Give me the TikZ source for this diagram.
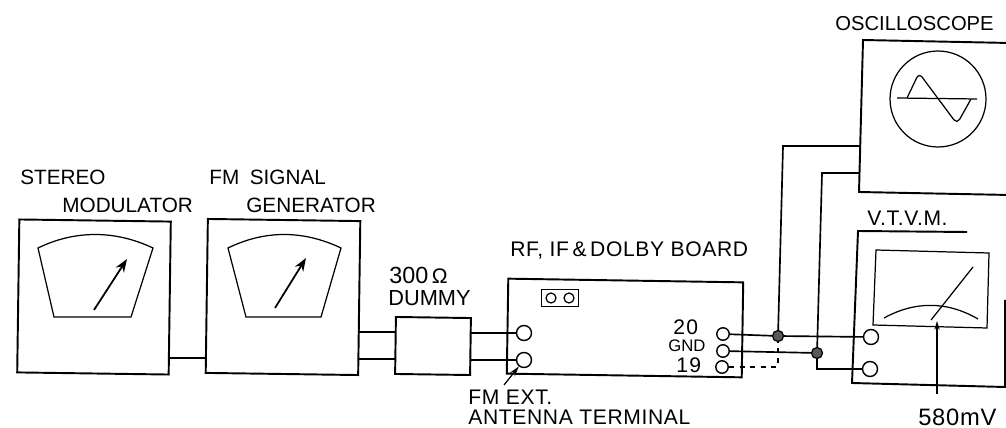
\documentclass[tikz,border=0pt]{standalone}
\usepackage{fontspec}
\setmainfont{Liberation Sans}
\usetikzlibrary{arrows.meta,positioning}

\tikzset{
    unitbox/.style={draw, line width=1.1pt, inner sep=0pt},
    wire/.style={line width=0.95pt},
    fine/.style={line width=0.7pt},
    term/.style={draw, circle, fill=white, line width=0.8pt, inner sep=0pt, minimum size=0.3cm},
    pin/.style={draw, circle, fill=white, line width=0.8pt, inner sep=0pt, minimum size=0.25cm},
    jdot/.style={draw, circle, fill=black!65, line width=0.7pt, inner sep=0pt, minimum size=0.22cm},
    lbl/.style={anchor=west, inner sep=0pt, font=\fontsize{11.8}{12}\selectfont},
    widelbl/.style={anchor=west, inner sep=0pt, font=\fontsize{12}{12}\selectfont\addfontfeature{LetterSpace=3}},
    needle/.style={line width=1pt, -{Stealth[length=7.5pt, width=5.5pt]}},
}

\begin{document}
\begin{tikzpicture}[x=0.02cm, y=-0.02cm]
\useasboundingbox (0,0) rectangle (1006,428);
\clip (0,0) rectangle (1006,428);
% Units
\node[unitbox, minimum width=3.03cm, minimum height=3.06cm, rotate=-0.8] (stereo) at (94,297) {};
\node[unitbox, minimum width=3.05cm, minimum height=3.08cm, rotate=-0.8] (gen) at (283,297) {};
\node[unitbox, minimum width=1.5cm, minimum height=1.14cm, rotate=-0.8] (dummy) at (433,346) {};
\node[unitbox, minimum width=4.7cm, minimum height=1.9cm, rotate=-0.9] (board) at (625,328) {};
\node[unitbox, minimum width=0.74cm, minimum height=0.34cm] (socket) at (560,298) {};
\draw[unitbox] (1010,43) -- (863,40) -- (859,192) -- (1010,195);
\draw[unitbox] (967,232) -- (858,231) -- (852,383) -- (1005,387) -- (1005,300);
% Meter faces
\draw[fine] (38,248) .. controls (75,230) and (115,230) .. (153,248) -- (131,317) -- (54,317) -- cycle;
\draw[needle] (94,310) -- (127,259);
\draw[fine] (228,248) .. controls (265,230) and (303,230) .. (341,248) -- (321,317) -- (246,317) -- cycle;
\draw[needle] (275,308) -- (306,258);
\draw[fine] (876,250) -- (989,253) -- (987,328) -- (873,325) -- cycle;
\draw[fine] (884,318) .. controls (915,301) and (947,301) .. (978,319);
\draw[fine] (931,320) -- (973,267);
% Scope face
\node[draw, circle, fine, minimum size=1.92cm, inner sep=0pt] (screen) at (938,99) {};
\draw[fine] (897,98) -- (977,99);
\draw[fine, rounded corners=3pt] (907,98) -- (919,73) -- (957,124) -- (971,99);
% Wires
\coordinate (stereoOut) at (170,358);
\coordinate (genIn) at (205,358);
\coordinate (genA) at (359,332);
\coordinate (genB) at (358,359);
\coordinate (dumA) at (396,332);
\coordinate (dumB) at (395,359);
\coordinate (outA) at (471,333);
\coordinate (outB) at (470,360);
\coordinate (scopeA) at (860,146);
\coordinate (scopeB) at (859,173);
% Terminals
\node[term] (antA) at (524,333) {};
\node[term] (antB) at (524,360) {};
\node[pin] (pinD) at (723,334) {};
\node[pin] (pinG) at (723,351) {};
\node[pin] (pinN) at (722,367) {};
\node[term] (vtvmA) at (871,337) {};
\node[term] (vtvmB) at (870,369) {};
\node[draw, circle, fine, minimum size=0.2cm, inner sep=0pt] (holeA) at (551,298) {};
\node[draw, circle, fine, minimum size=0.2cm, inner sep=0pt] (holeB) at (569,298) {};
\node[jdot] (jctA) at (778,336) {};
\node[jdot] (jctB) at (817,353) {};
\draw[wire] (stereoOut) -- (genIn);
\draw[wire] (genA) -- (dumA);
\draw[wire] (genB) -- (dumB);
\draw[wire] (outA) -- (antA);
\draw[wire] (outB) -- (antB);
\draw[wire] (pinD) -- (jctA) -- (vtvmA);
\draw[wire] (pinG) -- (jctB) |- (vtvmB);
\draw[wire] (jctA) -- (783,146) -- (scopeA);
\draw[wire] (jctB) -- (822,173) -- (scopeB);
\draw[wire, dashed] (pinN) -- (778,367) -- (jctA);
% Labels
\node[lbl] (lblStereo) at (20,177) {STEREO};
\node[lbl] (lblMod) at (62,205) {MODULATOR};
\node[lbl] (lblFm) at (209,177) {FM\hspace{6pt}SIGNAL};
\node[lbl] (lblGen) at (246,205) {GENERATOR};
\node[lbl, font=\fontsize{13.3}{13}\selectfont] (lblOhm) at (389,275) {300\hspace{2pt}{\fontsize{12}{12}\selectfont Ω}};
\node[lbl, font=\fontsize{12.4}{13}\selectfont] (lblDummy) at (388,298) {DUMMY};
\node[widelbl] (lblBoard) at (510,250) {RF, IF\,\&\,DOLBY BOARD};
\node[lbl, font=\fontsize{12}{12}\selectfont\addfontfeature{LetterSpace=6}] (lblD) at (673,327) {20};
\node[lbl, font=\fontsize{9.5}{10}\selectfont] (lblG) at (668,346) {GND};
\node[lbl, font=\fontsize{12}{12}\selectfont\addfontfeature{LetterSpace=6}] (lblN) at (676,365) {19};
\node[widelbl] (lblExt) at (468,397) {FM EXT.};
\node[widelbl] (lblTerm) at (468,417) {ANTENNA TERMINAL};
\node[lbl, font=\fontsize{11.5}{12}\selectfont] (lblScope) at (835,24) {OSCILLOSCOPE};
\node[widelbl] (lblVtvm) at (867,218) {V.T.V.M.};
\node[lbl, font=\fontsize{13.5}{14}\selectfont\addfontfeature{LetterSpace=3}] (lblMv) at (918,417) {580mV};
% Pointers
\coordinate (extFoot) at (504,385);
\coordinate (mvFoot) at (937,394);
\draw[fine, -{Stealth[length=6pt, width=3.5pt]}] (extFoot) -- (antB);
\draw[fine, -{Stealth[length=5pt, width=3pt]}] (mvFoot) -- (937,321);
\end{tikzpicture}
\end{document}
